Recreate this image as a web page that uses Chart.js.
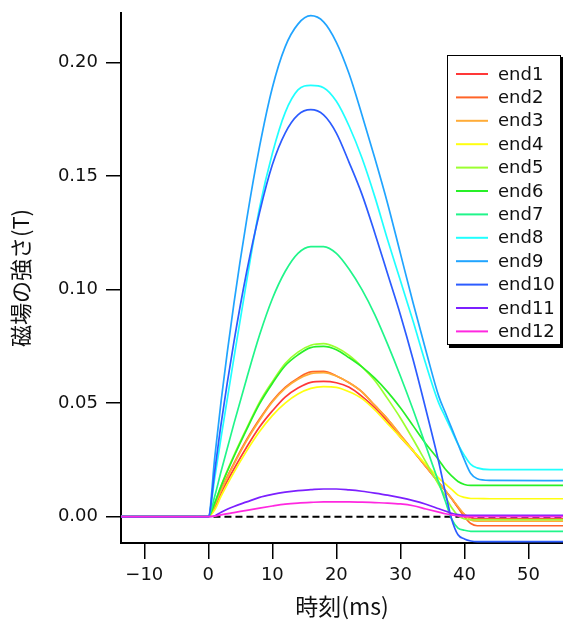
<script src="https://cdn.jsdelivr.net/npm/chart.js@4.4.7/dist/chart.umd.min.js"></script>

<style>
  body {
    margin: 0;
    background: #fff;
  }
  .chart-container {
    width: 563px;
    height: 620px;
  }
</style>

<div class="chart-container">
  <canvas id="chart" width="563" height="620"></canvas>
</div>

<script>
  // time axis (ms)
  const time = [-13.6, -12, -2, 0, 1, 2, 4, 6, 8, 10, 12, 14, 16, 18, 20, 22, 24, 26, 28, 30, 32, 34, 36, 37, 38, 39, 40, 41, 42, 44, 55.4]

  // field strength (T)
  const end1 = [0, 0, 0, 0, 0.004, 0.0105, 0.021, 0.0307, 0.0395, 0.0466, 0.0527, 0.0567, 0.0592, 0.0596, 0.059, 0.057, 0.053, 0.048, 0.042, 0.035, 0.029, 0.022, 0.015, 0.0115, 0.008, 0.004, 0.001, -0.0005, -0.001, -0.001, -0.001]
  const end2 = [0, 0, 0, 0, 0.005, 0.012, 0.0235, 0.034, 0.043, 0.051, 0.057, 0.061, 0.0638, 0.064, 0.062, 0.059, 0.055, 0.049, 0.043, 0.036, 0.029, 0.022, 0.015, 0.0115, 0.008, 0.004, 0.0, -0.003, -0.004, -0.004, -0.004]
  const end3 = [0, 0, 0, 0, 0.005, 0.0115, 0.023, 0.0335, 0.0425, 0.0505, 0.0565, 0.0605, 0.063, 0.0635, 0.062, 0.059, 0.055, 0.049, 0.043, 0.036, 0.029, 0.022, 0.015, 0.0115, 0.008, 0.0045, 0.001, -0.0015, -0.002, -0.002, -0.002]
  const end4 = [0, 0.0004, 0.0004, 0, 0.003, 0.009, 0.0195, 0.029, 0.0375, 0.0445, 0.05, 0.054, 0.0565, 0.0573, 0.057, 0.055, 0.052, 0.047, 0.041, 0.035, 0.029, 0.023, 0.017, 0.0145, 0.012, 0.0095, 0.0085, 0.008, 0.008, 0.0079, 0.0079]
  const end5 = [0, 0, 0, 0, 0.006, 0.0137, 0.027, 0.039, 0.0505, 0.0595, 0.0675, 0.0725, 0.0755, 0.0762, 0.0745, 0.071, 0.066, 0.06, 0.052, 0.0435, 0.034, 0.024, 0.014, 0.009, 0.004, 0.0005, -0.001, -0.0013, -0.0013, -0.0013, -0.0013]
  const end6 = [0, 0, 0, 0, 0.006, 0.0135, 0.0265, 0.0385, 0.0497, 0.0587, 0.0665, 0.0713, 0.0745, 0.075, 0.0735, 0.07, 0.066, 0.061, 0.055, 0.048, 0.04, 0.032, 0.025, 0.021, 0.018, 0.0155, 0.0142, 0.0138, 0.0138, 0.0138, 0.0138]
  const end7 = [0, 0, 0, 0, 0.009, 0.02, 0.041, 0.061, 0.08, 0.096, 0.108, 0.116, 0.119, 0.119, 0.116, 0.109, 0.1, 0.089, 0.076, 0.062, 0.047, 0.031, 0.015, 0.007, -0.001, -0.005, -0.006, -0.0065, -0.0065, -0.0065, -0.0065]
  const end8 = [0, 0, 0, 0, 0.017, 0.035, 0.07, 0.104, 0.136, 0.16, 0.178, 0.188, 0.19, 0.189, 0.183, 0.172, 0.158, 0.141, 0.122, 0.104, 0.086, 0.067, 0.05, 0.044, 0.038, 0.032, 0.027, 0.023, 0.0215, 0.0207, 0.0207]
  const end9 = [0, 0, 0, 0, 0.026, 0.051, 0.094, 0.131, 0.163, 0.189, 0.207, 0.217, 0.2207, 0.218, 0.209, 0.195, 0.177, 0.158, 0.138, 0.116, 0.094, 0.073, 0.053, 0.046, 0.039, 0.032, 0.025, 0.019, 0.0167, 0.016, 0.0159]
  const end10 = [0, 0, 0, 0, 0.02, 0.041, 0.077, 0.108, 0.134, 0.155, 0.169, 0.177, 0.1793, 0.177, 0.169, 0.156, 0.142, 0.125, 0.107, 0.089, 0.069, 0.047, 0.024, 0.011, -0.001, -0.008, -0.0098, -0.0107, -0.011, -0.011, -0.011]
  const end11 = [0, 0, 0, 0, 0.0003, 0.002, 0.0045, 0.0065, 0.0085, 0.0098, 0.0108, 0.0115, 0.0119, 0.0122, 0.0122, 0.0118, 0.0112, 0.0104, 0.0095, 0.0084, 0.0071, 0.0055, 0.0035, 0.0025, 0.0015, 0.0009, 0.0006, 0.0006, 0.0006, 0.0006, 0.0006]
  const end12 = [0, 0, 0, 0, 0.0002, 0.0008, 0.0018, 0.0028, 0.0038, 0.0047, 0.0055, 0.006, 0.0063, 0.0065, 0.0065, 0.0065, 0.0064, 0.0062, 0.006, 0.0056, 0.0048, 0.0034, 0.002, 0.0013, 0.0008, 0.0003, 0, 0, 0, 0, 0]

  // zero reference line
  const zeroTime = [0.8, 55.4]
  const zeroValue = [0, 0]

  const seriesNames = ['end1', 'end2', 'end3', 'end4', 'end5', 'end6', 'end7', 'end8', 'end9', 'end10', 'end11', 'end12']
  const seriesValues = [end1, end2, end3, end4, end5, end6, end7, end8, end9, end10, end11, end12]
  const seriesColors = ['#ff3838', '#ff6428', '#ffac38', '#ffff10', '#9cff30', '#28f028', '#20f58a', '#20ffff', '#20a4ff', '#2c5cff', '#7c20ff', '#ff28e0']

  const tickFont = { family: 'DejaVu Sans', size: 18 }

  const datasets = seriesNames.map((name, i) => ({
    label: name,
    data: time.map((t, k) => ({ x: t, y: seriesValues[i][k] })),
    borderColor: seriesColors[i],
    backgroundColor: seriesColors[i],
    borderWidth: 1.7,
    pointRadius: 0,
    cubicInterpolationMode: 'monotone',
    order: 12 - i
  }))

  datasets.push({
    label: '',
    data: zeroTime.map((t, k) => ({ x: t, y: zeroValue[k] })),
    borderColor: '#000',
    borderWidth: 2,
    borderDash: [7, 4],
    pointRadius: 0,
    order: 100
  })

  // legend box drawn inside the plot area, like the original
  const boxLegend = {
    id: 'boxLegend',
    afterDraw(chart) {
      const ctx = chart.ctx
      const x0 = 447, y0 = 55, w = 114, h = 290
      ctx.save()
      ctx.fillStyle = '#000'
      ctx.fillRect(x0 + 2, y0 + 2, w, h + 1)
      ctx.fillStyle = '#fff'
      ctx.fillRect(x0, y0, w, h)
      ctx.strokeStyle = '#000'
      ctx.lineWidth = 1
      ctx.strokeRect(x0 + 0.5, y0 + 0.5, w - 1, h - 1)
      ctx.font = '18px "DejaVu Sans"'
      ctx.textBaseline = 'middle'
      ctx.textAlign = 'left'
      for (let i = 0; i < seriesNames.length; i++) {
        const y = 74 + i * 23.4
        ctx.strokeStyle = seriesColors[i]
        ctx.lineWidth = 2
        ctx.beginPath()
        ctx.moveTo(456, y)
        ctx.lineTo(488, y)
        ctx.stroke()
        ctx.fillStyle = '#111'
        ctx.fillText(seriesNames[i], 498, y + 1)
      }
      ctx.restore()
    }
  }

  const config = {
    type: 'line',
    data: { datasets: datasets },
    options: {
      responsive: false,
      animation: false,
      devicePixelRatio: 1,
      layout: { padding: { top: 13, right: 0, bottom: 0, left: 0 } },
      plugins: {
        legend: { display: false },
        tooltip: { enabled: false }
      },
      scales: {
        x: {
          type: 'linear',
          min: -13.64,
          max: 55.4,
          border: { color: '#000', width: 2 },
          grid: { drawOnChartArea: false, drawTicks: true, tickLength: 16, color: '#000', lineWidth: 1.5 },
          ticks: {
            stepSize: 10,
            includeBounds: false,
            padding: 6,
            color: '#111',
            font: tickFont,
            maxRotation: 0,
            callback: (v) => (v < 0 ? '\u2212' + Math.abs(v) : String(v))
          },
          title: {
            display: true,
            text: '時刻(ms)',
            color: '#111',
            font: { family: 'Noto Sans CJK JP', size: 23 },
            padding: { top: 0, bottom: 0 }
          },
          afterFit: (scale) => {
            scale.height = 77
            scale.paddingLeft = 0
            scale.paddingRight = 0
          }
        },
        y: {
          min: -0.0116,
          max: 0.2219,
          border: { color: '#000', width: 2 },
          grid: { drawOnChartArea: false, drawTicks: true, tickLength: 15, color: '#000', lineWidth: 1.5 },
          ticks: {
            stepSize: 0.05,
            includeBounds: false,
            padding: 8,
            color: '#111',
            font: tickFont,
            callback: (v) => v.toFixed(2)
          },
          title: {
            display: true,
            text: '磁場の強さ(T)',
            color: '#111',
            font: { family: 'Noto Sans CJK JP', size: 22 },
            padding: { top: 7, bottom: 0 }
          },
          afterFit: (scale) => {
            scale.width = 121
            scale.paddingTop = 0
            scale.paddingBottom = 0
          }
        }
      }
    },
    plugins: [boxLegend]
  }

  const myChart = new Chart(document.getElementById('chart'), config)
</script>
